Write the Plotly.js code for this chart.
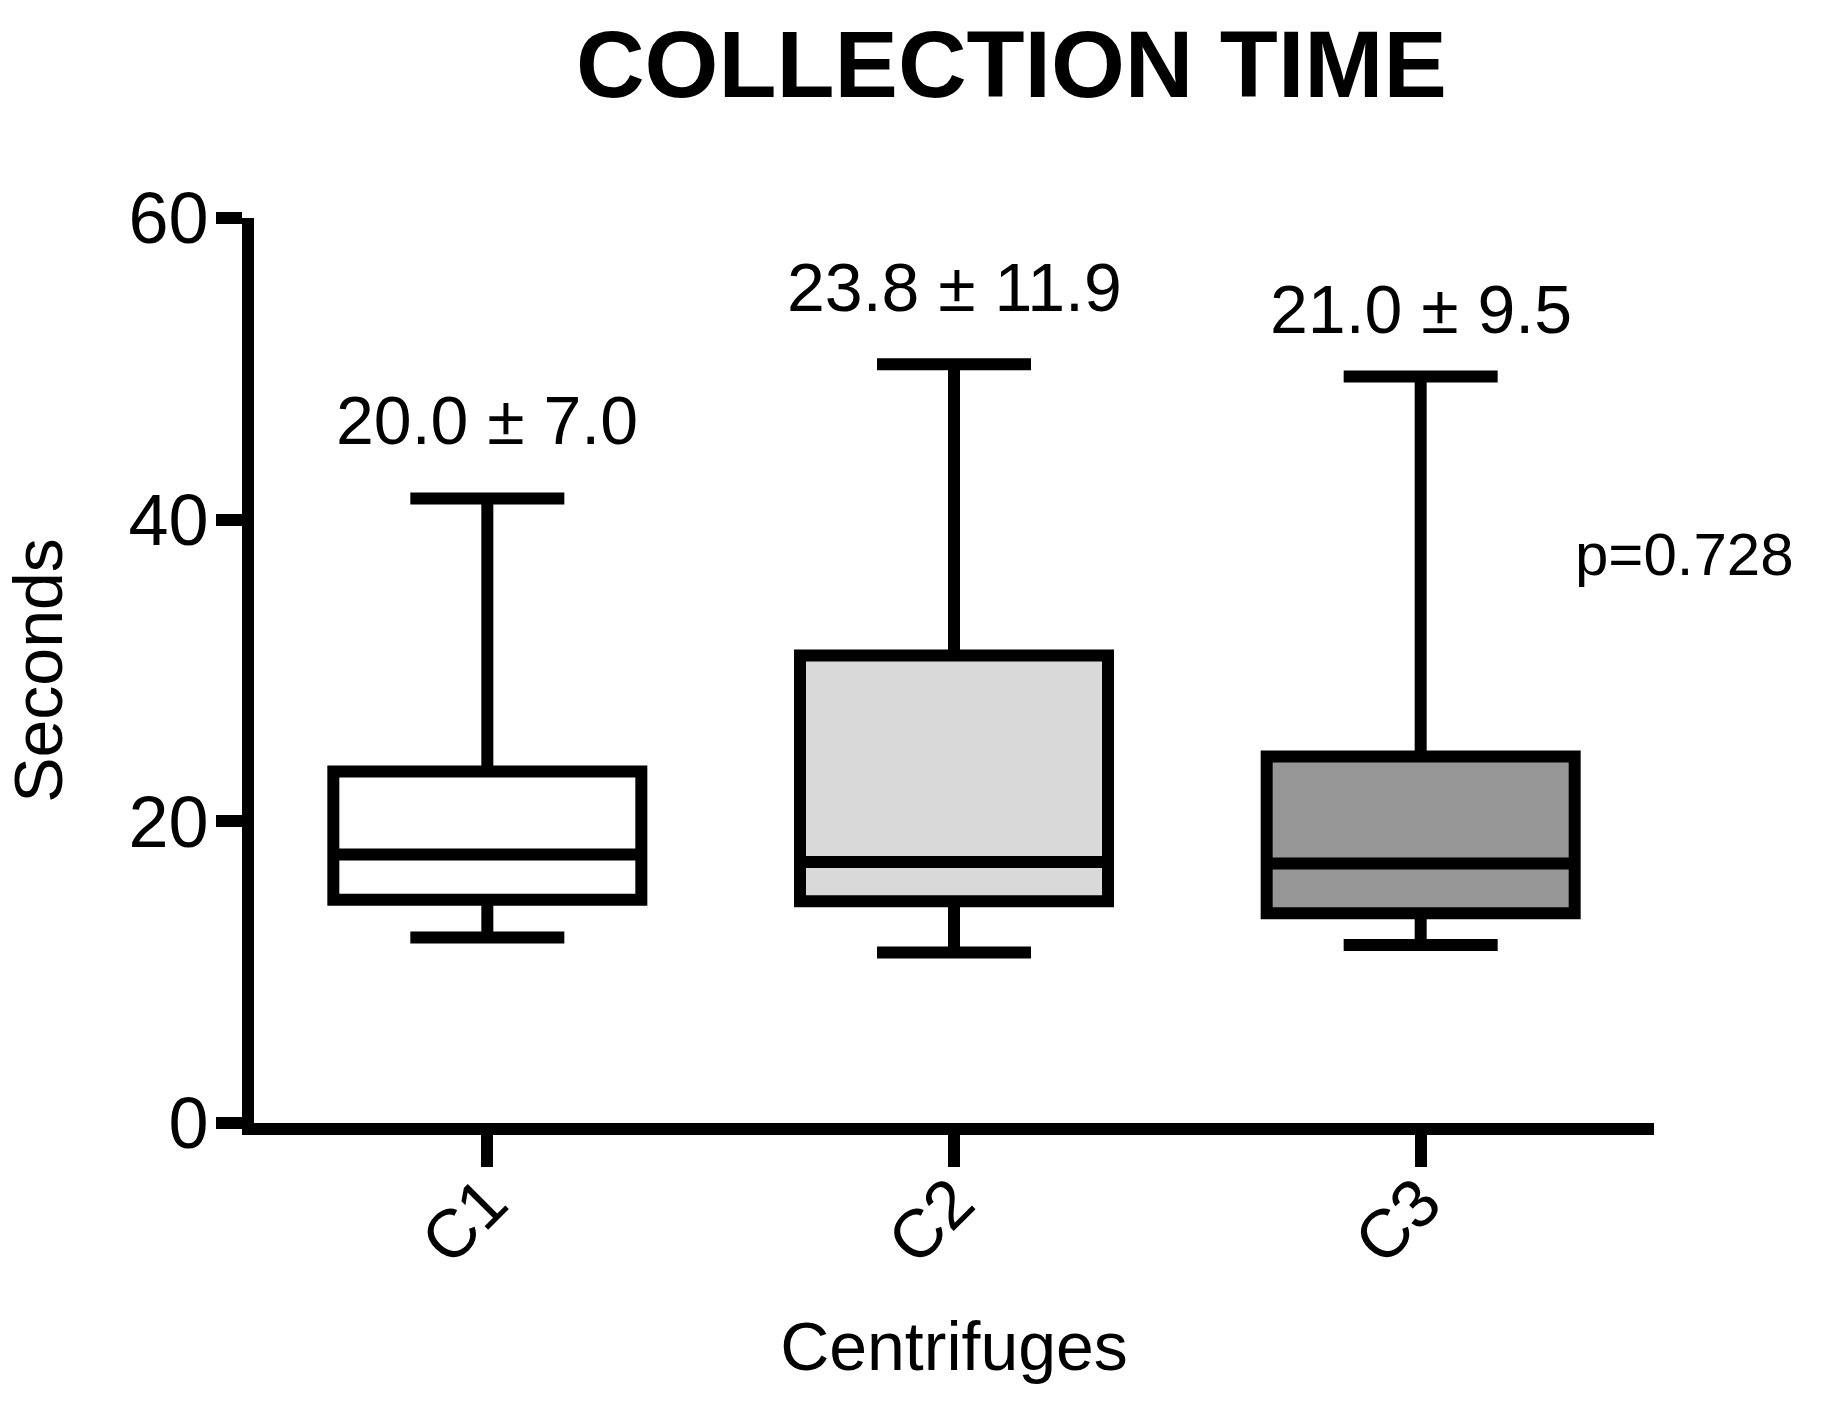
<!DOCTYPE html>
<html>
<head>
<meta charset="utf-8">
<script src="https://cdn.plot.ly/plotly-3.0.1.min.js"></script>
<style>html,body{margin:0;padding:0;background:#fff;}#chart{width:1848px;height:1408px;}</style>
</head>
<body>
<div id="chart"></div>
<script>
// Data (seconds)
const categories = ["C1", "C2", "C3"];
const lowerWhisker = [12.3, 11.3, 11.8];
const q1Values = [14.8, 14.7, 13.9];
const medianValues = [17.8, 17.3, 17.2];
const q3Values = [23.3, 31.0, 24.3];
const upperWhisker = [41.4, 50.3, 49.5];
const fillColors = ["#ffffff", "#d9d9d9", "#969696"];
const meanSdLabels = ["20.0 ± 7.0", "23.8 ± 11.9", "21.0 ± 9.5"];
const labelY = [46.6, 55.4, 54.0];
const pValueText = "p=0.728";
const yTicks = [0, 20, 40, 60];

const FONT = "Liberation Sans, Arial, Helvetica, sans-serif";

const traces = categories.map((c, i) => ({
  type: "box",
  name: c,
  x: [c],
  q1: [q1Values[i]],
  median: [medianValues[i]],
  q3: [q3Values[i]],
  lowerfence: [lowerWhisker[i]],
  upperfence: [upperWhisker[i]],
  fillcolor: fillColors[i],
  line: { color: "#000000", width: 12 },
  whiskerwidth: 0.5,
  boxpoints: false,
  hoverinfo: "skip",
  showlegend: false
}));

const annotations = categories.map((c, i) => ({
  x: c, y: labelY[i], xref: "x", yref: "y",
  text: meanSdLabels[i], showarrow: false,
  font: { family: FONT, size: 68, color: "#000" },
  xanchor: "center", yanchor: "middle"
}));
annotations.push({
  x: 1.022, y: 37.7, xref: "paper", yref: "y",
  text: pValueText, showarrow: false,
  font: { family: FONT, size: 60, color: "#000" },
  xanchor: "center", yanchor: "middle"
});

const layout = {
  width: 1848, height: 1408,
  paper_bgcolor: "#ffffff", plot_bgcolor: "#ffffff",
  margin: { l: 254, r: 194, t: 218, b: 285 },
  boxmode: "overlay",
  boxgap: 0.34,
  boxgroupgap: 0,
  title: {
    text: "<b>COLLECTION TIME</b>",
    font: { family: FONT, size: 95, color: "#000" },
    x: 0.541, xref: "paper", xanchor: "center",
    y: 0.955, yref: "container", yanchor: "middle"
  },
  xaxis: {
    type: "category",
    categoryarray: categories, categoryorder: "array",
    range: [-0.5, 2.5],
    showline: true, linecolor: "#000", linewidth: 12,
    ticks: "outside", ticklen: 32, tickwidth: 12, tickcolor: "#000",
    tickangle: -45,
    ticklabelstandoff: -32,
    tickfont: { family: FONT, size: 68, color: "#000" },
    showgrid: false, zeroline: false,
    title: { text: "Centrifuges", font: { family: FONT, size: 68, color: "#000" }, standoff: 50 },
    automargin: false
  },
  yaxis: {
    range: [0, 60],
    tickvals: yTicks,
    showline: true, linecolor: "#000", linewidth: 12,
    ticks: "outside", ticklen: 26, tickwidth: 12, tickcolor: "#000",
    ticklabelstandoff: -7,
    tickfont: { family: FONT, size: 72, color: "#000" },
    showgrid: false, zeroline: false,
    title: { text: "Seconds", font: { family: FONT, size: 68, color: "#000" }, standoff: 52 },
    automargin: false
  },
  annotations: annotations,
  showlegend: false
};

Plotly.newPlot("chart", traces, layout, { displayModeBar: false, staticPlot: true });
</script>
</body>
</html>
